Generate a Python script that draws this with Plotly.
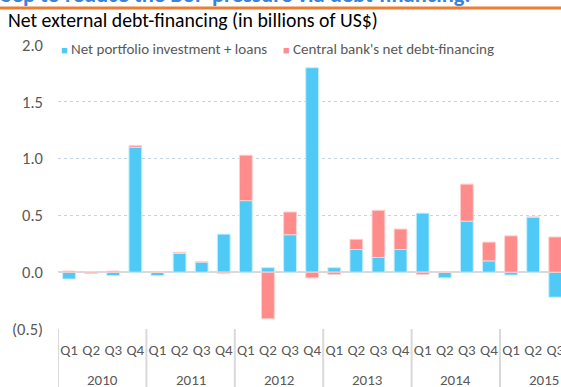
import plotly.graph_objects as go

years = ["2010"] * 4 + ["2011"] * 4 + ["2012"] * 4 + ["2013"] * 4 + ["2014"] * 4 + ["2015"] * 4
quarters = ["Q1", "Q2", "Q3", "Q4"] * 6
portfolio_loans = [-0.06, 0.0, -0.03, 1.10, -0.03, 0.165, 0.09, 0.335,
                   0.63, 0.04, 0.33, 1.80, 0.04, 0.20, 0.13, 0.20,
                   0.52, -0.05, 0.45, 0.10, -0.025, 0.485, -0.22, None]
central_bank = [0.01, -0.012, 0.01, 0.015, 0.0, 0.01, 0.0, -0.01,
                0.40, -0.41, 0.20, -0.05, -0.02, 0.09, 0.415, 0.18,
                -0.02, 0.0, 0.325, 0.165, 0.32, 0.0, 0.31, None]
y_tickvals = [-0.5, 0.0, 0.5, 1.0, 1.5, 2.0]
y_ticktext = ["(0.5)", "0.0", "0.5", "1.0", "1.5", "2.0"]
series_names = ["Net portfolio investment + loans", "Central bank's net debt-financing"]
series_colors = ["#4FC9F5", "#FF8B8B"]

FONT = "Carlito, Lato, sans-serif"
GREY = "#595959"

categories = [f"{y} {q}" for y, q in zip(years, quarters)]

fig = go.Figure()
fig.add_trace(go.Bar(
    x=categories, y=portfolio_loans, name=series_names[0],
    marker=dict(color=series_colors[0], line=dict(color="#C4EEFC", width=1)),
))
fig.add_trace(go.Bar(
    x=categories, y=central_bank, name=series_names[1],
    marker=dict(color=series_colors[1], line=dict(color="#FFD0D0", width=1)),
))

fig.update_layout(
    width=561, height=387,
    margin=dict(l=58, r=0, t=45, b=58, autoexpand=False),
    paper_bgcolor="white", plot_bgcolor="white",
    barmode="relative", bargap=0.42,
    font=dict(family=FONT, color=GREY, size=14),
    showlegend=False,
)
fig.update_xaxes(
    type="category", range=[-0.5, 22.26], automargin=False,
    tickvals=categories, ticktext=quarters,
    showgrid=False, showline=False, zeroline=False, ticks="", tickangle=0,
    ticklabelstandoff=10,
    tickfont=dict(size=15, color=GREY, family=FONT),
)
fig.update_yaxes(
    range=[-0.5, 2.0], tickvals=y_tickvals, ticktext=y_ticktext, automargin=False,
    showgrid=True, gridcolor="#c5d3ea", griddash="dot", gridwidth=1,
    zeroline=True, zerolinecolor="#d9d9d9", zerolinewidth=2,
    showline=False, ticks="", ticklabelstandoff=14,
    tickfont=dict(size=16.5, color=GREY, family=FONT),
)

# year group labels and dividers
unique_years = list(dict.fromkeys(years))
for yr in unique_years:
    idx = [i for i, y in enumerate(years) if y == yr]
    fig.add_annotation(
        text=yr, xref="x", yref="paper", x=sum(idx) / len(idx), y=-0.1796,
        xanchor="center", yanchor="middle", showarrow=False,
        font=dict(size=15, color=GREY, family=FONT),
    )
    fig.add_shape(type="line", xref="x", yref="paper",
                  x0=idx[0] - 0.5, x1=idx[0] - 0.5, y0=0, y1=-0.21,
                  line=dict(color="#d9d9d9", width=2))

# legend drawn as text entries
legend_x = [0.002, 0.4433]
for name, color, lx in zip(series_names, series_colors, legend_x):
    fig.add_annotation(
        text=f'<span style="color:{color};font-size:11px">■</span> {name}',
        xref="paper", yref="paper", x=lx, y=0.986, xanchor="left", yanchor="middle",
        showarrow=False, font=dict(size=15, color=GREY, family=FONT),
    )

fig.add_annotation(
    text="Net external debt-financing (in billions of US$)",
    xref="paper", yref="paper", x=-0.1034, y=1.088, xanchor="left", yanchor="middle",
    showarrow=False, font=dict(size=19.8, color="#000000", family=FONT),
)
fig.add_annotation(
    text="<b>Sep to reduce the BoP pressure via debt-financing.</b>",
    xref="paper", yref="paper", x=-0.118, y=1.1232, xanchor="left", yanchor="bottom",
    showarrow=False, font=dict(size=22.5, color="#3C82D8", family=FONT),
)
fig.add_shape(type="line", xref="paper", yref="paper",
              x0=-0.12, x1=1.0, y0=1.1303, y1=1.1303,
              line=dict(color="#ED7D31", width=3))

fig.write_html("out.html", post_script="document.body.style.margin='0';",
               config={"displayModeBar": False})
